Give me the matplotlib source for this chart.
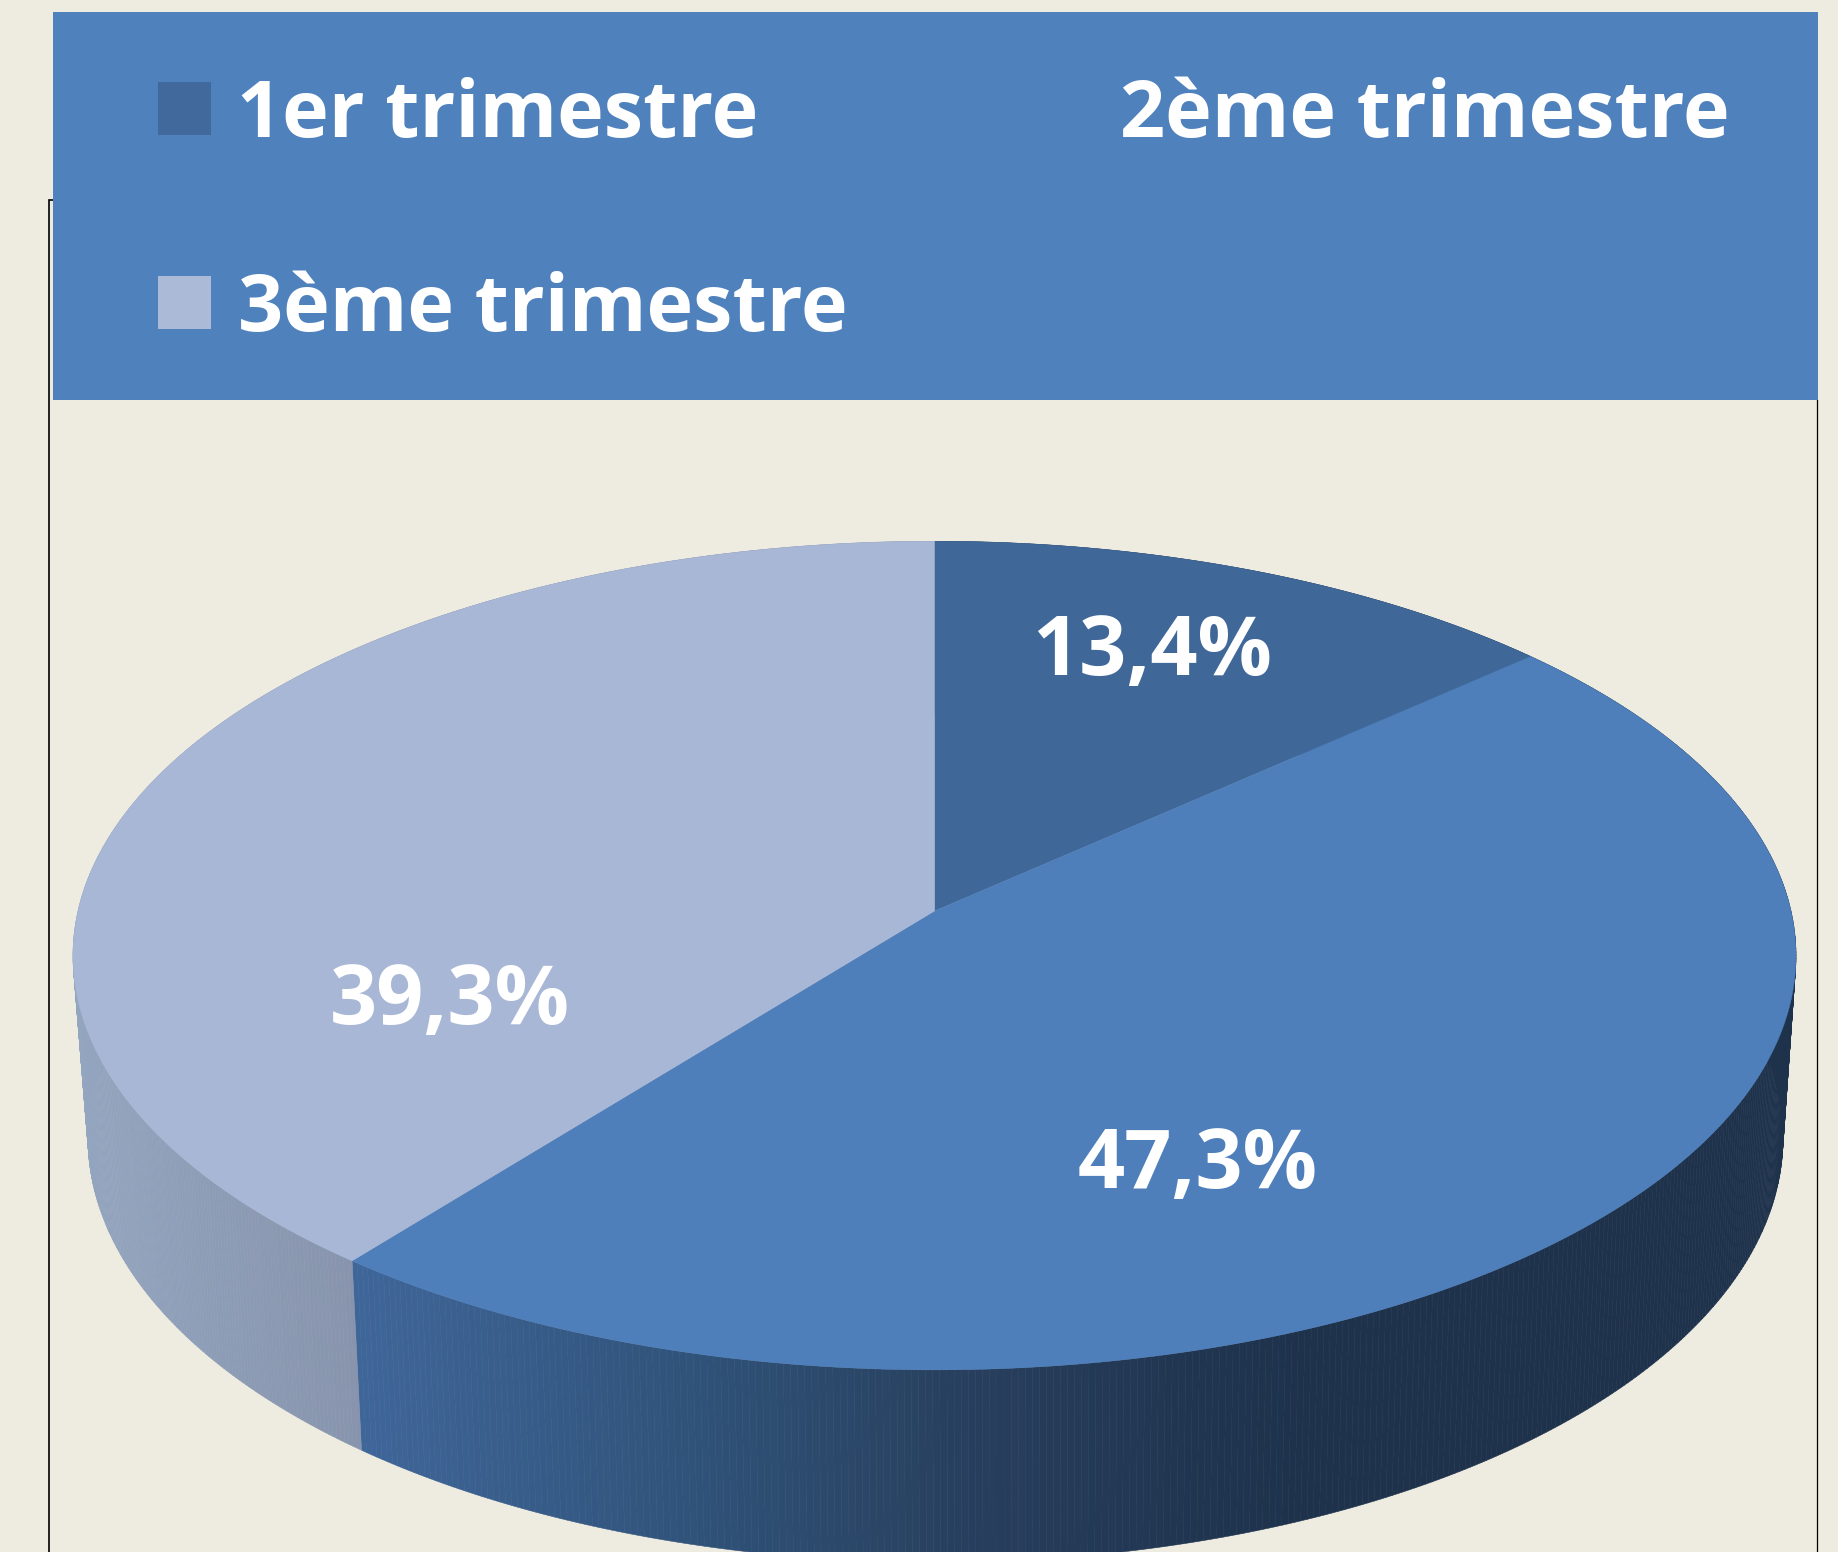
import numpy as np
import matplotlib
matplotlib.use("Agg")
import matplotlib.pyplot as plt
from matplotlib.collections import PolyCollection
from matplotlib.patches import Polygon, Rectangle

# --- data ---
categories = ["1er trimestre", "2ème trimestre", "3ème trimestre"]
values = [13.4, 47.3, 39.3]
top_colors = ["#3f6798", "#4e7fbb", "#a8b7d6"]
legend_colors = ["#41699c", "#4f81bd", "#abbad7"]

# --- style / layout ---
BG = "#eeebe0"
PANEL = "#4f81bd"
W, H = 1838, 1552
FONT = "Open Sans"
LEG_FS = 57
LAB_FS = 59.5

# perspective projection of the top and bottom discs
TOP = dict(cx=934.5, cy=911.0, rx=861.5, a=409.5, k=0.1076)
BASE = dict(cx=935.5, cy=1091.5, rx=847.5, a=419.0, k=0.11)

# side shading: horizontal position -> colour
wall_x = {
    0: [0, 1838],
    1: [360, 700, 950, 1200, 1300, 1838],
    2: [70, 350, 365],
}
wall_c = {
    0: ["#2a4464", "#2a4464"],
    1: ["#3f6699", "#2f5278", "#28405f", "#203550", "#1e324c", "#1e324c"],
    2: ["#93a5bf", "#8894ad", "#8894ad"],
}


def project(theta, p):
    u, v = np.sin(theta), np.cos(theta)
    d = 1 + p["k"] * v
    b = p["rx"] * np.sqrt(1 - p["k"] ** 2)
    return p["cx"] + b * u / d, p["cy"] - p["a"] * v / d


def shade(x, i):
    rgb = np.array([matplotlib.colors.to_rgb(c) for c in wall_c[i]])
    return np.column_stack([np.interp(x, wall_x[i], rgb[:, j]) for j in range(3)])


fig = plt.figure(figsize=(W / 100, H / 100), dpi=100, facecolor=BG)
ax = fig.add_axes([0, 0, 1, 1])
ax.set_xlim(0, W)
ax.set_ylim(H, 0)
ax.axis("off")

# frame lines behind the panel
ax.plot([53, 49, 49], [200, 200, H], color="black", lw=1.2, solid_joinstyle="miter", zorder=1)
ax.plot([1817, 1817], [400, H], color="black", lw=0.9, zorder=1)

# legend panel
ax.add_patch(Rectangle((53, 12), 1765, 388, facecolor=PANEL, edgecolor="none", zorder=2))
leg_sq = [(158, 82), (None, None), (158, 276)]
leg_txt = [(237, 137), (1120, 137), (238, 331)]
for c, col, (sx, sy), (tx, ty) in zip(categories, legend_colors, leg_sq, leg_txt):
    if sx is not None:
        ax.add_patch(Rectangle((sx, sy), 53, 53, facecolor=col, edgecolor="none", zorder=3))
    ax.text(tx, ty, c, color="white", fontsize=LEG_FS, fontweight="bold", family=FONT,
            ha="left", va="baseline", zorder=4)

# pie
edges = 2 * np.pi * np.cumsum([0] + values) / sum(values)
for i in range(len(values)):
    t = np.linspace(edges[i], edges[i + 1], 400)
    xt, yt = project(t, TOP)
    xb, yb = project(t, BASE)
    quads = [[(xt[j], yt[j]), (xt[j + 1], yt[j + 1]), (xb[j + 1], yb[j + 1]), (xb[j], yb[j])]
             for j in range(len(t) - 1)]
    cols = shade((xt[:-1] + xt[1:]) / 2, i)
    ax.add_collection(PolyCollection(quads, facecolors=cols, edgecolors=cols, linewidths=0.4, zorder=5))

for i in range(len(values)):
    t = np.linspace(edges[i], edges[i + 1], 400)
    xt, yt = project(t, TOP)
    pts = np.column_stack([np.r_[TOP["cx"], xt], np.r_[TOP["cy"], yt]])
    ax.add_patch(Polygon(pts, closed=True, facecolor=top_colors[i], edgecolor=top_colors[i], lw=0.3, zorder=6))

label_pos = [(1152, 675), (1198, 1188), (450, 1024)]
for v, (lx, ly) in zip(values, label_pos):
    ax.text(lx, ly, f"{v:.1f}%".replace(".", ","), color="white", fontsize=LAB_FS,
            fontweight="bold", family=FONT, ha="center", va="baseline", zorder=7)

fig.savefig("out.png", dpi=100, facecolor=BG)
